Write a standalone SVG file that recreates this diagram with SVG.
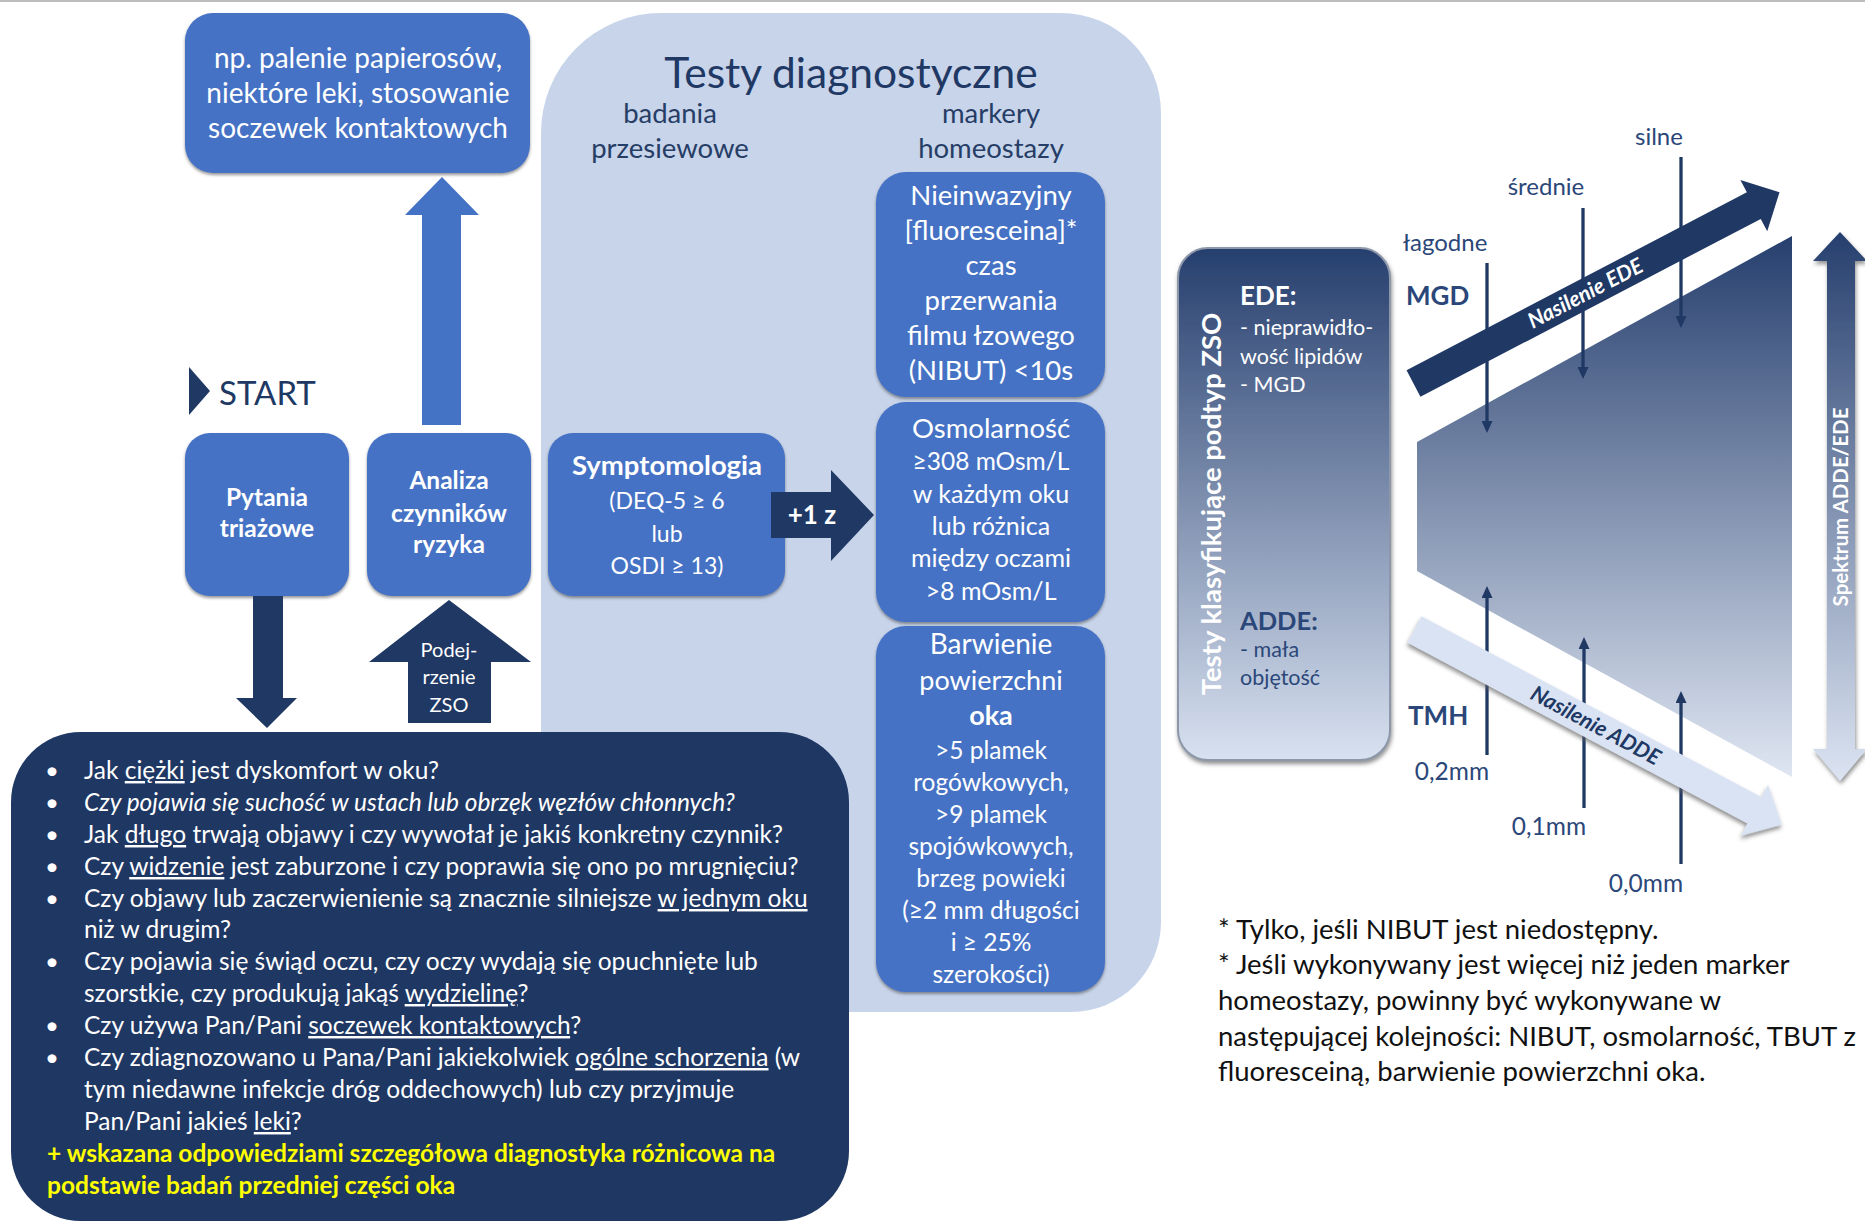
<svg xmlns="http://www.w3.org/2000/svg" width="1865" height="1223" viewBox="0 0 1865 1223">
<defs>
<style>
text{font-family:Lato,"Open Sans","Liberation Sans",sans-serif}
.box{fill:#4472c4;filter:url(#sh)}
.wt{fill:#fff;text-anchor:middle}
.wb{fill:#fff;text-anchor:middle;font-weight:700}
.nvt{fill:#263d66;text-anchor:middle}
.q{fill:#fff;font-size:24.5px}
.u{text-decoration:underline}
.yl{fill:#ffff00;font-size:24.5px;font-weight:700}
.lbl{fill:#2b4779;font-size:24px;text-anchor:middle}
.mm{fill:#2b4779;font-size:24.5px;text-anchor:middle}
.big{fill:#2b4779;font-size:26px;font-weight:700}
.thin{stroke:#203864;stroke-width:3.3;fill:none;marker-end:url(#ah)}
.fn{fill:#111;font-size:27.5px}
.bul{fill:#fff;font-size:24px}
</style>
<filter id="sh" x="-10%" y="-10%" width="120%" height="125%"><feDropShadow dx="0" dy="2" stdDeviation="1.5" flood-color="#404040" flood-opacity="0.55"/></filter>
<filter id="sh2" x="-15%" y="-15%" width="130%" height="130%"><feDropShadow dx="1" dy="3" stdDeviation="2" flood-color="#606060" flood-opacity="0.7"/></filter>
<linearGradient id="gTrap" gradientUnits="userSpaceOnUse" x1="0" y1="236" x2="0" y2="777"><stop offset="0" stop-color="#263f6e"/><stop offset="1" stop-color="#dfe6f2"/></linearGradient>
<linearGradient id="gBox" gradientUnits="userSpaceOnUse" x1="0" y1="248" x2="0" y2="760"><stop offset="0" stop-color="#263f6e"/><stop offset="1" stop-color="#d8e1f0"/></linearGradient>
<linearGradient id="gSpek" gradientUnits="userSpaceOnUse" x1="0" y1="232" x2="0" y2="781"><stop offset="0" stop-color="#263f6e"/><stop offset="1" stop-color="#dce4f2"/></linearGradient>
<marker id="ah" markerUnits="userSpaceOnUse" markerWidth="12" markerHeight="11" viewBox="0 0 12 11" refX="3" refY="5.5" orient="auto"><path d="M0,0 L12,5.5 L0,11 z" fill="#203864"/></marker>
</defs>
<rect x="0" y="0" width="1865" height="1223" fill="#fff"/>
<line x1="0" y1="1" x2="1865" y2="1" stroke="#bdbdbd" stroke-width="2"/>

<g id="panel-testy">
<path d="M541,1012 V133 A120,120 0 0 1 661,13 H1061 A100,100 0 0 1 1161,113 V922 A90,90 0 0 1 1071,1012 Z" fill="#c7d4ea"/>
<text x="851" y="88" font-size="42.5" fill="#1f3864" text-anchor="middle">Testy diagnostyczne</text>
<text class="nvt" x="670" y="123" font-size="27.5">badania</text>
<text class="nvt" x="670" y="158" font-size="27.5">przesiewowe</text>
<text class="nvt" x="991" y="123" font-size="27.5">markery</text>
<text class="nvt" x="991" y="158" font-size="27.5">homeostazy</text>
</g>

<g id="node-czynniki-przyklady">
<rect class="box" x="185" y="13" width="345" height="160" rx="28"/>
<text class="wt" x="358" y="68" font-size="28">np. palenie papierosów,</text>
<text class="wt" x="358" y="103" font-size="28">niektóre leki, stosowanie</text>
<text class="wt" x="358" y="138" font-size="28">soczewek kontaktowych</text>
</g>

<g id="start">
<polygon points="189,367 210,391 189,415" fill="#203864"/>
<text x="219" y="405" font-size="33" fill="#203864">START</text>
</g>

<g id="node-pytania">
<rect class="box" x="185" y="433" width="164" height="163" rx="25"/>
<text class="wb" x="267" y="506" font-size="24.5">Pytania</text>
<text class="wb" x="267" y="537" font-size="24.5">triażowe</text>
</g>

<g id="node-analiza">
<rect class="box" x="367" y="433" width="164" height="163" rx="25"/>
<text class="wb" x="449" y="489" font-size="24.5">Analiza</text>
<text class="wb" x="449" y="522" font-size="24.5">czynników</text>
<text class="wb" x="449" y="553" font-size="24.5">ryzyka</text>
</g>

<g id="node-symptomologia">
<rect class="box" x="548" y="433" width="237" height="163" rx="25"/>
<text class="wb" x="667" y="475" font-size="27.5">Symptomologia</text>
<text class="wt" x="667" y="509" font-size="23">(DEQ-5 ≥ 6</text>
<text class="wt" x="667" y="542" font-size="23">lub</text>
<text class="wt" x="667" y="574" font-size="23">OSDI ≥ 13)</text>
</g>

<g id="node-nibut">
<rect class="box" x="876" y="172" width="229" height="225" rx="30"/>
<text class="wt" x="991" y="205" font-size="27.5">Nieinwazyjny</text>
<text class="wt" x="991" y="240" font-size="27.5">[fluoresceina]*</text>
<text class="wt" x="991" y="275" font-size="27.5">czas</text>
<text class="wt" x="991" y="310" font-size="27.5">przerwania</text>
<text class="wt" x="991" y="345" font-size="27.5">filmu łzowego</text>
<text class="wt" x="991" y="380" font-size="27.5">(NIBUT) &lt;10s</text>
</g>

<g id="node-osmolarnosc">
<rect class="box" x="876" y="402" width="229" height="220" rx="30"/>
<text class="wt" x="991" y="438" font-size="27.5">Osmolarność</text>
<text class="wt" x="991" y="470" font-size="24.5">≥308 mOsm/L</text>
<text class="wt" x="991" y="503" font-size="25">w każdym oku</text>
<text class="wt" x="991" y="535" font-size="25">lub różnica</text>
<text class="wt" x="991" y="567" font-size="25">między oczami</text>
<text class="wt" x="991" y="600" font-size="25">&gt;8 mOsm/L</text>
</g>

<g id="node-barwienie">
<rect class="box" x="876" y="626" width="229" height="366" rx="30"/>
<text class="wt" x="991" y="654" font-size="28">Barwienie</text>
<text class="wt" x="991" y="690" font-size="27">powierzchni</text>
<text class="wb" x="991" y="725" font-size="27">oka</text>
<text class="wt" x="991" y="759" font-size="24.5">&gt;5 plamek</text>
<text class="wt" x="991" y="791" font-size="24.5">rogówkowych,</text>
<text class="wt" x="991" y="823" font-size="24.5">&gt;9 plamek</text>
<text class="wt" x="991" y="855" font-size="24.5">spojówkowych,</text>
<text class="wt" x="991" y="887" font-size="24.5">brzeg powieki</text>
<text class="wt" x="991" y="919" font-size="24.5">(≥2 mm długości</text>
<text class="wt" x="991" y="951" font-size="24.5">i ≥ 25%</text>
<text class="wt" x="991" y="983" font-size="24.5">szerokości)</text>
</g>

<g id="node-pytania-lista">
<rect x="11" y="732" width="838" height="489" rx="70" fill="#1f3763"/>
<g class="bul">
<text x="45" y="779">•</text><text x="45" y="811">•</text><text x="45" y="843">•</text><text x="45" y="875">•</text>
<text x="45" y="907">•</text><text x="45" y="970">•</text><text x="45" y="1034">•</text><text x="45" y="1066">•</text>
</g>
<text class="q" x="84" y="779">Jak <tspan class="u">ciężki</tspan> jest dyskomfort w oku?</text>
<text class="q" x="84" y="811" font-style="italic">Czy pojawia się suchość w ustach lub obrzęk węzłów chłonnych?</text>
<text class="q" x="84" y="843">Jak <tspan class="u">długo</tspan> trwają objawy i czy wywołał je jakiś konkretny czynnik?</text>
<text class="q" x="84" y="875">Czy <tspan class="u">widzenie</tspan> jest zaburzone i czy poprawia się ono po mrugnięciu?</text>
<text class="q" x="84" y="907">Czy objawy lub zaczerwienienie są znacznie silniejsze <tspan class="u">w jednym oku</tspan></text>
<text class="q" x="84" y="938">niż w drugim?</text>
<text class="q" x="84" y="970">Czy pojawia się świąd oczu, czy oczy wydają się opuchnięte lub</text>
<text class="q" x="84" y="1002">szorstkie, czy produkują jakąś <tspan class="u">wydzielinę</tspan>?</text>
<text class="q" x="84" y="1034">Czy używa Pan/Pani <tspan class="u">soczewek kontaktowych</tspan>?</text>
<text class="q" x="84" y="1066">Czy zdiagnozowano u Pana/Pani jakiekolwiek <tspan class="u">ogólne schorzenia</tspan> (w</text>
<text class="q" x="84" y="1098">tym niedawne infekcje dróg oddechowych) lub czy przyjmuje</text>
<text class="q" x="84" y="1130">Pan/Pani jakieś <tspan class="u">leki</tspan>?</text>
<text class="yl" x="47" y="1162">+ wskazana odpowiedziami szczegółowa diagnostyka różnicowa na</text>
<text class="yl" x="47" y="1194">podstawie badań przedniej części oka</text>
</g>

<g id="connectors">
<polygon points="422,425 422,215 405,215 442,177 479,215 461,215 461,425" fill="#4472c4"/>
<polygon points="253,596 283,596 283,698 297,698 267,728 236,698 253,698" fill="#203864"/>
<polygon points="408,723 408,662 369,662 449,600 531,662 491,662 491,723" fill="#203864"/>
<text class="wt" x="449" y="657" font-size="20">Podej-</text>
<text class="wt" x="449" y="684" font-size="20">rzenie</text>
<text class="wt" x="449" y="712" font-size="20">ZSO</text>
<polygon points="771,492 831,492 831,470 874,515 831,561 831,538 771,538" fill="#203864"/>
<text class="wb" x="812" y="524" font-size="26">+1 z</text>
</g>

<g id="node-klasyfikacja">
<rect x="1178" y="248" width="212" height="512" rx="30" fill="url(#gBox)" stroke="#8d97aa" stroke-width="2" filter="url(#sh2)"/>
<text transform="translate(1221,504) rotate(-90)" fill="#fff" font-size="27.5" font-weight="700" text-anchor="middle">Testy klasyfikujące podtyp ZSO</text>
<text x="1240" y="305" fill="#fff" font-size="26" font-weight="700">EDE:</text>
<text x="1240" y="335" fill="#fff" font-size="21.5">- nieprawidło-</text>
<text x="1240" y="364" fill="#fff" font-size="21.5">wość lipidów</text>
<text x="1240" y="392" fill="#fff" font-size="21.5">- MGD</text>
<text x="1240" y="630" fill="#2b4779" font-size="25.5" font-weight="700">ADDE:</text>
<text x="1240" y="657" fill="#2b4779" font-size="21.5">- mała</text>
<text x="1240" y="685" fill="#2b4779" font-size="21.5">objętość</text>
</g>

<g id="wykres">
<polygon points="1417,442 1792,236 1792,777 1417,571" fill="url(#gTrap)"/>
<line class="thin" x1="1487" y1="263" x2="1487" y2="424"/>
<line class="thin" x1="1583" y1="208" x2="1583" y2="370"/>
<line class="thin" x1="1681" y1="157" x2="1681" y2="319"/>
<g transform="translate(1413.5,383.5) rotate(-27.6)">
<polygon points="0,-15 384,-15 384,-29 413,0 384,29 384,15 0,15" fill="#203864"/>
<text x="194" y="7" fill="#fff" font-size="21.5" font-weight="700" font-style="italic" text-anchor="middle">Nasilenie EDE</text>
</g>
<line class="thin" x1="1487" y1="755" x2="1487" y2="595"/>
<line class="thin" x1="1584" y1="808" x2="1584" y2="646"/>
<line class="thin" x1="1681" y1="864" x2="1681" y2="700"/>
<g transform="translate(1414.5,629.5) rotate(28)">
<polygon points="0,-15 385,-15 385,-29 416,0 385,29 385,15 0,15" fill="#dae3f3" filter="url(#sh2)"/>
<text x="205" y="7" fill="#203864" font-size="21.5" font-weight="700" font-style="italic" text-anchor="middle">Nasilenie ADDE</text>
</g>
<polygon points="1840,232 1867,261 1855,261 1855,749 1867,749 1840,781 1813,749 1827,749 1827,261 1813,261" fill="url(#gSpek)" filter="url(#sh2)"/>
<text transform="translate(1848,507) rotate(-90)" fill="#fff" font-size="20.5" font-weight="700" text-anchor="middle">Spektrum ADDE/EDE</text>
<text class="lbl" x="1659" y="145">silne</text>
<text class="lbl" x="1546" y="195">średnie</text>
<text class="lbl" x="1445" y="251">łagodne</text>
<text class="big" x="1406" y="305">MGD</text>
<text class="big" x="1408" y="725">TMH</text>
<text class="mm" x="1452" y="780">0,2mm</text>
<text class="mm" x="1549" y="835">0,1mm</text>
<text class="mm" x="1646" y="892">0,0mm</text>
</g>

<g id="przypisy">
<text class="fn" x="1218" y="939">* Tylko, jeśli NIBUT jest niedostępny.</text>
<text class="fn" x="1218" y="974">* Jeśli wykonywany jest więcej niż jeden marker</text>
<text class="fn" x="1218" y="1010">homeostazy, powinny być wykonywane w</text>
<text class="fn" x="1218" y="1046">następującej kolejności: NIBUT, osmolarność, TBUT z</text>
<text class="fn" x="1218" y="1081">fluoresceiną, barwienie powierzchni oka.</text>
</g>
</svg>
